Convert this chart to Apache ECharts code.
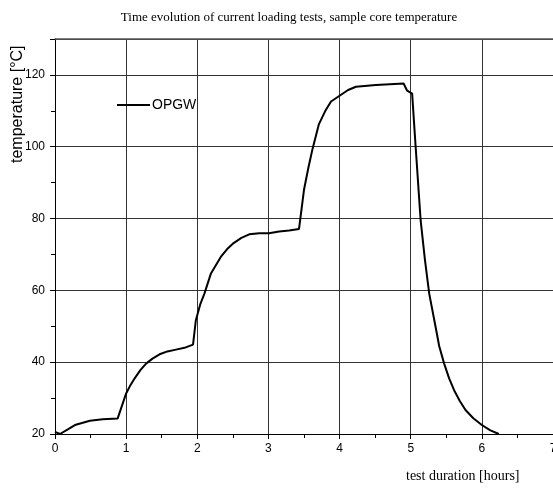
<!DOCTYPE html>
<html>
<head>
<meta charset="utf-8">
<script src="https://cdn.jsdelivr.net/npm/echarts@6/dist/echarts.min.js"></script>
<style>
html,body{margin:0;padding:0;background:#fff;overflow:hidden;}
#chart{width:553px;height:489px;}
</style>
</head>
<body>
<div id="chart"></div>
<script>
// Data
const hours = [0, 0.07, 0.18, 0.28, 0.49, 0.67, 0.88, 1.0, 1.06, 1.12, 1.20, 1.28, 1.37, 1.47, 1.58, 1.70, 1.82, 1.94,
  1.98, 2.04, 2.10, 2.19, 2.33, 2.42, 2.50, 2.62, 2.73, 2.87, 3.01, 3.15, 3.29, 3.43,
  3.50, 3.56, 3.62, 3.71, 3.80, 3.88, 4.0, 4.12, 4.23, 4.51, 4.90, 4.95, 5.02,
  5.07, 5.14, 5.20, 5.26, 5.35, 5.40, 5.47, 5.54, 5.61, 5.69, 5.77, 5.88, 6.0, 6.12, 6.24];
const temps = [20.6, 20.0, 21.3, 22.5, 23.7, 24.1, 24.3, 31.3, 33.6, 35.5, 37.8, 39.6, 41.0, 42.2, 43.0, 43.5, 44.0, 44.9,
  51.7, 56.0, 59.1, 64.6, 69.3, 71.5, 73.0, 74.6, 75.6, 75.9, 75.9, 76.4, 76.7, 77.1,
  88.0, 94.0, 99.4, 106.3, 110.0, 112.6, 114.2, 115.8, 116.7, 117.2, 117.6, 115.6, 114.8,
  99.8, 79.4, 68.5, 59.1, 49.8, 44.5, 39.6, 35.5, 32.2, 29.2, 26.7, 24.4, 22.5, 21.0, 20.0];
const seriesName = 'OPGW';
const titleText = 'Time evolution of current loading tests, sample core temperature';
const xName = 'test duration [hours]';
const yName = 'temperature [°C]';

const chart = echarts.init(document.getElementById('chart'), null, {width: 553, height: 489});
const tickFont = 'Liberation Sans Narrow, Liberation Sans, sans-serif';
chart.setOption({
  animation: false,
  backgroundColor: '#fff',
  title: {
    text: titleText, left: 284, top: 6, textAlign: 'center',
    textStyle: {fontFamily: 'Liberation Serif, serif', fontSize: 13, fontWeight: 'normal', color: '#000'}
  },
  legend: {
    data: [{name: seriesName, icon: 'rect'}], left: 117, top: 98, padding: 0, itemWidth: 33, itemHeight: 2, itemGap: 2,
    textStyle: {fontFamily: 'Liberation Sans, sans-serif', fontSize: 14, color: '#000', padding: [0,0,0,-3]}
  },
  grid: {left: 55, top: 39, right: 0, bottom: 55, containLabel: false, outerBoundsMode: 'none'},
  xAxis: [{
    type: 'value', min: 0, max: 7, interval: 1,
    axisLine: {show: true, onZero: false, lineStyle: {color: '#000', width: 1}},
    axisTick: {show: true, inside: false, length: 5, lineStyle: {color: '#000'}},
    minorTick: {show: true, splitNumber: 2, length: 4, lineStyle: {color: '#000'}},
    axisLabel: {fontFamily: tickFont, fontSize: 12, color: '#000', margin: 9},
    splitLine: {show: true, lineStyle: {color: '#333', width: 1}}
  }, {
    type: 'value', position: 'top', min: 0, max: 7, interval: 1,
    axisLine: {show: true, lineStyle: {color: '#555', width: 1.5}},
    axisTick: {show: false}, axisLabel: {show: false}, splitLine: {show: false}
  }],
  yAxis: {
    type: 'value', min: 20, max: 130, interval: 20,
    axisLine: {show: true, onZero: false, lineStyle: {color: '#000', width: 1}},
    axisTick: {show: true, inside: false, length: 5, lineStyle: {color: '#000'}},
    minorTick: {show: true, splitNumber: 2, length: 4, lineStyle: {color: '#000'}},
    axisLabel: {fontFamily: tickFont, fontSize: 12, color: '#000', margin: 10, showMaxLabel: false},
    splitLine: {show: true, lineStyle: {color: '#333', width: 1}}
  },
  graphic: [
    {type: 'text', x: 10, y: 163, rotation: Math.PI/2,
     style: {text: yName, fontFamily: 'Liberation Sans, sans-serif', fontSize: 16, fill: '#000'}},
    {type: 'text', left: 406, top: 469, style: {text: xName, fontFamily: 'Liberation Serif, serif', fontSize: 14, fill: '#000'}}
  ],
  series: [{
    name: seriesName, type: 'line', xAxisIndex: 0,
    data: hours.map((h, i) => [h, temps[i]]),
    symbol: 'none', smooth: false,
    lineStyle: {color: '#000', width: 2},
    itemStyle: {color: '#000'}
  }]
});
</script>
</body>
</html>
